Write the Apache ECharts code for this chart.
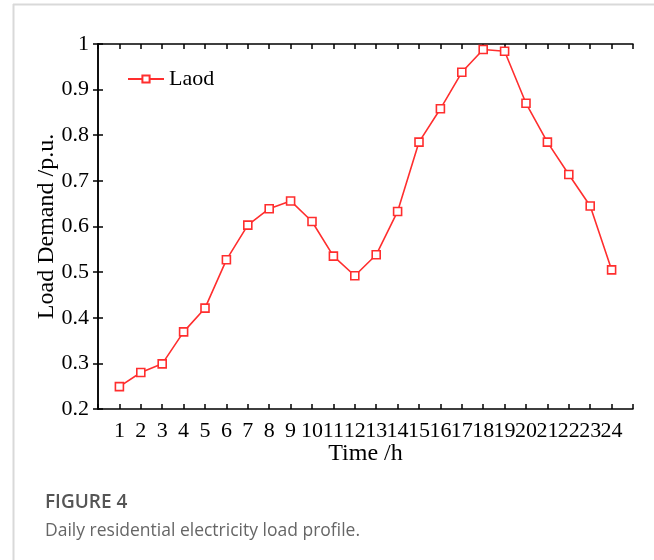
<!DOCTYPE html>
<html>
<head>
<meta charset="utf-8">
<script src="https://cdn.jsdelivr.net/npm/echarts@6/dist/echarts.min.js"></script>
<style>html,body{margin:0;padding:0;background:#fff}#c{width:654px;height:560px}</style>
</head>
<body>
<div id="c"></div>
<script>
const hours = [1,2,3,4,5,6,7,8,9,10,11,12,13,14,15,16,17,18,19,20,21,22,23,24];
const loadValues = [0.249,0.280,0.299,0.369,0.421,0.527,0.603,0.639,0.656,0.611,0.535,0.492,0.538,0.633,0.785,0.858,0.938,0.988,0.984,0.870,0.785,0.714,0.645,0.505];
const yTicks = [0.2,0.3,0.4,0.5,0.6,0.7,0.8,0.9,1];
const seriesName = 'Laod';

const serif = '"Liberation Serif", "DejaVu Serif", serif';
const red = '#ff2e2e';
const chart = echarts.init(document.getElementById('c'), null, {renderer:'canvas'});
function axisCommon() {
  return {
    axisLine:{show:true, lineStyle:{color:'#000', width:1.5}},
    axisTick:{show:true, inside:true, length:5, lineStyle:{color:'#000', width:1.5}},
    splitLine:{show:false}
  };
}
chart.setOption({
  animation:false,
  grid:{left:98, right:21, top:44, bottom:151, containLabel:false},
  legend:{
    left:122, top:63, padding:5, itemWidth:36, itemHeight:9, itemGap:4,
    textStyle:{fontFamily:serif, fontSize:22, color:'#000'},
    data:[seriesName]
  },
  xAxis:[
    Object.assign({type:'value', min:0, max:25, interval:1, position:'bottom',
      name:'Time /h', nameLocation:'middle', nameGap:33, nameMoveOverlap:false,
      nameTextStyle:{fontFamily:serif, fontSize:24, color:'#000'},
      axisLabel:{fontFamily:serif, fontSize:22, color:'#000', margin:11,
        formatter:v => (hours.indexOf(v) >= 0 ? String(v) : '')}
    }, axisCommon()),
    Object.assign({type:'value', min:0, max:25, interval:1, position:'top',
      axisLabel:{show:false}}, axisCommon())
  ],
  yAxis:[
    Object.assign({type:'value', min:0.2, max:1, interval:0.1, position:'left',
      name:'Load Demand /p.u.', nameLocation:'middle', nameGap:39, nameRotate:90, nameMoveOverlap:false,
      nameTextStyle:{fontFamily:serif, fontSize:24, color:'#000'},
      axisLabel:{fontFamily:serif, fontSize:22, color:'#000', margin:9,
        formatter:v => { const r = Math.round(v*10)/10; return yTicks.indexOf(r) >= 0 ? String(r) : ''; }}
    }, axisCommon()),
    Object.assign({type:'value', min:0.2, max:1, interval:0.1, position:'right',
      axisLabel:{show:false}}, axisCommon())
  ],
  series:[{
    name:seriesName, type:'line',
    data:hours.map((h,i) => [h, loadValues[i]]),
    symbol:'rect', symbolSize:8, showAllSymbol:true,
    lineStyle:{color:red, width:1.6},
    itemStyle:{color:'#fff', borderColor:red, borderWidth:1.6}
  }],
  graphic:[
    {type:'line', shape:{x1:13, y1:4.5, x2:654, y2:4.5}, style:{stroke:'#d9d9d9', lineWidth:2}},
    {type:'line', shape:{x1:13.5, y1:4, x2:13.5, y2:560}, style:{stroke:'#d9d9d9', lineWidth:2}},
    {type:'text', left:45, top:493, style:{text:'FIGURE 4', font:'600 19px "Open Sans", sans-serif', fill:'#555'}},
    {type:'text', left:45, top:522, style:{text:'Daily residential electricity load profile.', font:'17.5px "Open Sans", sans-serif', fill:'#666'}}
  ]
});
</script>
</body>
</html>
